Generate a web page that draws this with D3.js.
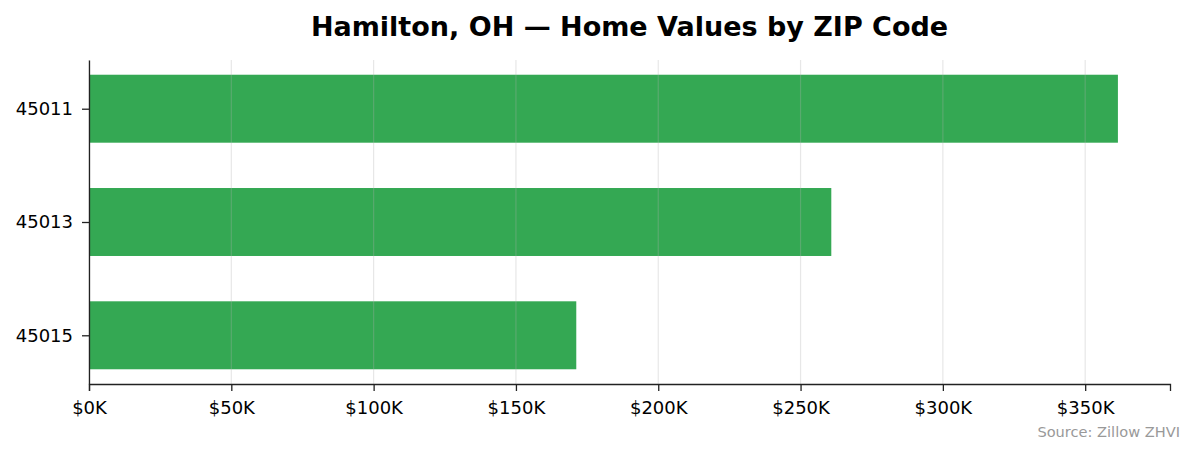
<!DOCTYPE html>
<html>
<head>
<meta charset="utf-8">
<script src="https://cdn.jsdelivr.net/npm/d3@7"></script>
<style>
  body { margin: 0; background: #fff; }
  text { font-family: "DejaVu Sans", sans-serif; }
</style>
</head>
<body>
<div id="chart"></div>
<script>
// data
const zips = ['45011', '45013', '45015'];
const homeValues = [361500, 260800, 171200];
const xTicks = [0, 50000, 100000, 150000, 200000, 250000, 300000, 350000];

const W = 1195, H = 455;
const M = { top: 60, right: 25, bottom: 71, left: 89 };

const svg = d3.select('#chart').append('svg').attr('width', W).attr('height', H);

const x = d3.scaleLinear().domain([0, 379800]).range([M.left, W - M.right]);
// matplotlib style: bars 0.6 tall, 5% margins around data
const y = d3.scaleLinear().domain([-0.43, 2.43]).range([M.top, H - M.bottom]);
const barH = y(0.3) - y(-0.3);

// Title
svg.append('text')
  .attr('x', (M.left + W - M.right) / 2).attr('y', 36)
  .attr('text-anchor', 'middle')
  .attr('font-size', '27px').attr('font-weight', 'bold')
  .attr('fill', '#000')
  .text('Hamilton, OH — Home Values by ZIP Code');

// Bars
svg.append('g').selectAll('rect').data(zips).join('rect')
  .attr('x', x(0))
  .attr('y', (d, i) => y(i) - barH / 2)
  .attr('width', (d, i) => x(homeValues[i]) - x(0))
  .attr('height', barH)
  .attr('fill', '#34a853');

// Grid lines drawn over bars, faint
svg.append('g').selectAll('line').data(xTicks).join('line')
  .attr('x1', d => x(d)).attr('x2', d => x(d))
  .attr('y1', M.top).attr('y2', H - M.bottom)
  .attr('stroke', '#b0b0b0').attr('stroke-opacity', 0.3).attr('stroke-width', 1.2);

// X axis
const xAxis = svg.append('g')
  .attr('transform', `translate(0,${H - M.bottom})`)
  .call(d3.axisBottom(x).tickValues(xTicks).tickSize(7).tickPadding(10)
    .tickFormat(d => '$' + d / 1000 + 'K'));
xAxis.select('.domain').attr('stroke', '#222').attr('stroke-width', 1.3);
xAxis.selectAll('.tick line').attr('stroke', '#222').attr('stroke-width', 1.3);
xAxis.selectAll('.tick text').attr('font-size', '18px').attr('fill', '#000')
  .attr('font-family', '"DejaVu Sans", sans-serif');

// Y axis
const yAxis = svg.append('g')
  .attr('transform', `translate(${M.left},0)`)
  .call(d3.axisLeft(y).tickValues([0, 1, 2]).tickSize(7).tickPadding(9)
    .tickFormat(i => zips[i]).tickSizeOuter(0));
yAxis.select('.domain').attr('stroke', '#222').attr('stroke-width', 1.3);
yAxis.selectAll('.tick line').attr('stroke', '#222').attr('stroke-width', 1.3);
yAxis.selectAll('.tick text').attr('font-size', '18px').attr('fill', '#000')
  .attr('font-family', '"DejaVu Sans", sans-serif');

// Source note
svg.append('text')
  .attr('x', 1180).attr('y', 437)
  .attr('text-anchor', 'end')
  .attr('font-size', '14.6px').attr('fill', '#999')
  .text('Source: Zillow ZHVI');
</script>
</body>
</html>
